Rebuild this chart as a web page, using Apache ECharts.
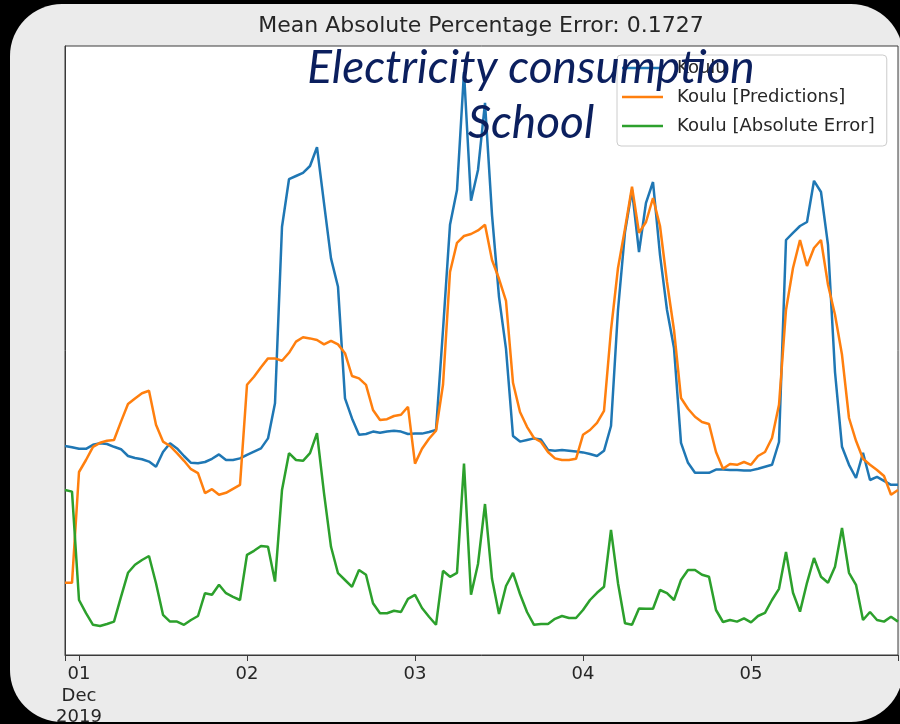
<!DOCTYPE html>
<html>
<head>
<meta charset="utf-8">
<script src="https://cdn.jsdelivr.net/npm/echarts@6/dist/echarts.min.js"></script>
<style>
  html, body { margin: 0; padding: 0; background: #000; }
  #wrap { position: relative; width: 900px; height: 724px; overflow: hidden; background: #000; }
  #panel { position: absolute; left: 10px; top: 4px; width: 893px; height: 718px; background: #ebebeb; border-radius: 52px; }
  #chart { position: absolute; left: 0; top: 0; width: 900px; height: 724px; }
</style>
</head>
<body>
<div id="wrap"><div id="panel"></div><div id="chart"></div></div>
<script>
// Hourly school electricity consumption, 30 Nov 22:00 .. 5 Dec 21:00 (hours relative to 1 Dec 00:00)
const firstHour = -2;

const actual = [
  45.0, 44.7, 44.3, 44.3, 45.3, 45.7, 45.5, 44.8, 44.2, 42.5, 42.0, 41.7, 41.1, 39.8, 43.5, 45.7,
  44.4, 42.5, 40.8, 40.7, 41.0, 41.8, 42.9, 41.5, 41.5, 41.9, 42.8, 43.6, 44.4, 46.9, 55.7, 99.8,
  111.7, 112.5, 113.3, 115.0, 119.7, 105.7, 91.9, 84.8, 56.9, 51.9, 47.8, 48.0, 48.6, 48.3, 48.6, 48.8,
  48.6, 48.0, 48.1, 48.1, 48.5, 49.0, 74.0, 100.3, 109.0, 138.5, 106.3, 114.0, 130.8, 102.8, 82.3, 69.3,
  47.5, 46.1, 46.5, 46.9, 46.6, 44.0, 43.8, 44.0, 43.8, 43.6, 43.4, 43.0, 42.5, 43.8, 50.0, 79.0,
  98.5, 109.0, 93.5, 105.8, 111.0, 92.8, 79.0, 69.5, 45.8, 40.8, 38.3, 38.3, 38.3, 39.1, 39.1, 39.0,
  39.0, 38.9, 38.9, 39.3, 39.8, 40.3, 46.0, 96.5, 98.3, 100.0, 101.0, 111.3, 108.5, 95.3, 63.5, 44.8,
  40.3, 37.0, 43.3, 36.5, 37.3, 36.3, 35.3, 35.3
];

const predicted = [
  10.8, 10.8, 38.5, 41.5, 44.8, 45.8, 46.3, 46.5, 51.1, 55.5, 56.9, 58.2, 58.8, 50.3, 46.1, 45.0,
  43.2, 41.3, 39.2, 38.2, 33.2, 34.2, 32.8, 33.3, 34.3, 35.3, 60.3, 62.3, 64.7, 66.9, 66.9, 66.3,
  68.3, 71.1, 72.2, 71.9, 71.5, 70.4, 71.3, 70.4, 68.2, 62.5, 61.9, 60.3, 54.0, 51.5, 51.7, 52.5,
  52.8, 54.8, 40.6, 44.3, 46.8, 48.8, 60.3, 88.5, 95.8, 97.5, 98.0, 98.9, 100.3, 91.5, 86.8, 81.3,
  60.8, 53.5, 49.8, 47.0, 46.0, 43.5, 41.9, 41.5, 41.5, 41.8, 47.8, 49.0, 50.8, 53.8, 74.0, 89.5,
  99.3, 109.8, 98.3, 101.0, 107.0, 100.0, 86.0, 74.0, 57.0, 54.3, 52.3, 51.0, 50.5, 43.5, 39.3, 40.5,
  40.3, 41.0, 40.3, 42.5, 43.5, 47.0, 55.3, 79.0, 89.5, 96.5, 90.0, 94.5, 96.5, 85.3, 77.8, 67.8,
  52.0, 46.3, 41.8, 40.3, 39.0, 37.5, 32.8, 34.0
];

const absError = [
  34.0, 33.6, 6.5, 3.2, 0.3, 0.0, 0.5, 1.1, 7.3, 13.3, 15.3, 16.5, 17.5, 10.7, 2.8, 1.1,
  1.1, 0.3, 1.5, 2.5, 8.2, 7.8, 10.3, 8.2, 7.3, 6.5, 17.8, 18.8, 20.0, 19.8, 11.1, 34.0,
  43.2, 41.5, 41.3, 43.2, 48.2, 33.2, 19.8, 13.2, 11.5, 9.8, 14.0, 12.8, 5.7, 3.2, 3.2, 3.8,
  3.5, 6.8, 7.8, 4.5, 2.3, 0.3, 13.8, 12.3, 13.3, 40.6, 7.8, 15.5, 30.5, 11.8, 3.0, 10.0,
  13.3, 8.0, 3.5, 0.3, 0.5, 0.5, 1.8, 2.5, 2.0, 2.0, 4.0, 6.5, 8.3, 9.8, 24.0, 10.7,
  0.7, 0.3, 4.4, 4.3, 4.3, 9.0, 8.2, 6.5, 11.5, 14.0, 14.0, 12.8, 12.3, 4.0, 1.0, 1.5,
  1.1, 1.9, 0.9, 2.5, 3.3, 6.5, 9.3, 18.5, 8.3, 3.6, 10.8, 17.0, 12.3, 10.8, 14.8, 24.5,
  13.3, 10.3, 1.5, 3.5, 1.5, 1.1, 2.3, 1.1
];

const seriesNames = ['Koulu', 'Koulu [Predictions]', 'Koulu [Absolute Error]'];
const seriesColors = ['#1f77b4', '#ff7f0e', '#2ca02c'];

const dayTicks = [0, 24, 48, 72, 96];
const dayLabels = ['01\nDec\n2019', '02', '03', '04', '05'];

const titleText = 'Mean Absolute Percentage Error: 0.1727';
const captionLines = ['Electricity consumption', 'School'];

// value range of the plot (5% padding around the data), split in equal steps
const yStep = 7.25;
const yMin = -yStep;
const yMax = 20 * yStep;

const lastHour = firstHour + actual.length - 1;
const toPoints = arr => arr.map((v, i) => [firstHour + i, v]);

const chart = echarts.init(document.getElementById('chart'), null, { renderer: 'canvas' });

const textColor = '#262626';
const spineColor = '#3a3a3a';

chart.setOption({
  animation: false,
  backgroundColor: 'transparent',
  title: {
    text: titleText,
    left: 481,
    top: 15,
    padding: 0,
    textAlign: 'center',
    textStyle: { fontFamily: 'DejaVu Sans', fontSize: 22, fontWeight: 'normal', color: textColor }
  },
  grid: {
    left: 65, top: 46, width: 833, height: 609,
    containLabel: false,
    outerBoundsMode: 'none',
    show: true, backgroundColor: '#ffffff', borderColor: spineColor, borderWidth: 1
  },
  xAxis: {
    type: 'value',
    min: firstHour,
    max: lastHour,
    interval: 1,
    splitLine: { show: false },
    axisLine: { show: true, onZero: false, lineStyle: { color: spineColor, width: 1 } },
    axisTick: {
      show: true, inside: false, length: 6,
      customValues: [firstHour].concat(dayTicks, [lastHour]),
      lineStyle: { color: spineColor, width: 1 }
    },
    axisLabel: {
      show: true,
      customValues: dayTicks,
      margin: 9,
      hideOverlap: false,
      fontFamily: 'DejaVu Sans', fontSize: 18, lineHeight: 21.5, color: textColor,
      formatter: v => {
        const k = dayTicks.indexOf(v);
        return k >= 0 ? dayLabels[k] : '';
      }
    }
  },
  yAxis: {
    type: 'value',
    min: yMin,
    max: yMax,
    interval: yStep,
    splitLine: { show: false },
    axisLine: { show: true, onZero: false, lineStyle: { color: spineColor, width: 1 } },
    axisTick: { show: false },
    axisLabel: { show: false }
  },
  legend: {
    orient: 'vertical',
    left: 617, top: 55,
    data: seriesNames,
    icon: 'rect',
    itemWidth: 41, itemHeight: 2.5, itemGap: 9,
    padding: [3, 12, 10, 5],
    backgroundColor: 'rgba(255,255,255,0.85)',
    borderColor: '#cccccc', borderWidth: 1, borderRadius: 4,
    selectedMode: false,
    textStyle: {
      fontFamily: 'DejaVu Sans', fontSize: 18, lineHeight: 20, color: textColor,
      padding: [0, 0, 0, 9]
    }
  },
  graphic: captionLines.map((line, k) => ({
    type: 'text',
    z: 100,
    x: 531,
    y: k === 0 ? 68 : 123,
    style: {
      text: line,
      fill: '#0b1f5e',
      font: 'italic 400 46px Lato, "Open Sans", sans-serif',
      align: 'center',
      verticalAlign: 'middle'
    }
  })),
  series: [actual, predicted, absError].map((arr, k) => ({
    name: seriesNames[k],
    type: 'line',
    data: toPoints(arr),
    symbol: 'none',
    showSymbol: false,
    clip: true,
    color: seriesColors[k],
    lineStyle: { color: seriesColors[k], width: 2.5 },
    z: 2 + k
  }))
});
</script>
</body>
</html>
